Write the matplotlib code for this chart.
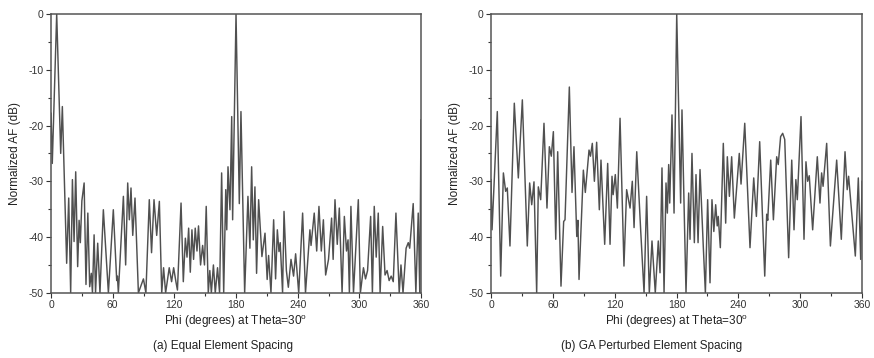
import numpy as np
import matplotlib
matplotlib.use("Agg")
import matplotlib.pyplot as plt

plt.rcParams['font.family'] = ['Liberation Sans', 'DejaVu Sans']
plt.rcParams['mathtext.default'] = 'regular'
plt.rcParams['axes.unicode_minus'] = False

# (a) equal element spacing -- lobe peaks / nulls
phi_a = [0, 1.2, 5.5, 9.4, 11, 15.2, 17.2, 19.1, 20.8, 22.4, 24, 25.9, 27.3, 28.5, 30, 32.2,
         34, 35.8, 37.6, 39.2, 40.3, 41.9, 43.3, 45.4, 47.6, 50.9, 55.8, 60.6, 63.9, 64.6,
         65.5, 70.4, 72.6, 74.6, 76.2, 77.8, 79.5, 81.7, 85, 89.9, 92.3, 95.6, 97.8, 100.2,
         102.8, 105.4, 107.7, 109.5, 111.5, 115, 117.3, 119.3, 121.5, 123, 126.5, 128.7,
         130.7, 132.3, 133.9, 135.5, 137.1, 138.7, 140.3, 142, 143.5, 145.5, 147.5, 149.3,
         151, 153, 154.5, 156, 158, 159.8, 162, 164, 166, 168, 170, 171, 172.2, 174.1, 175.8,
         176.7, 180, 183.2, 184.8, 188.4, 191.6, 193.5, 195.2, 196.8, 198.4, 200, 202, 205.2,
         208.2, 210.3, 211.7, 214, 216.6, 218.5, 220.2, 221.8, 223, 225.3, 226.7, 229, 230.9,
         233.5, 236, 238, 241, 244.8, 247.6, 251.9, 253, 256.1, 258.5, 260.7, 263, 265, 267.2,
         270, 273, 274.5, 276.3, 278.5, 280.5, 283.2, 285.4, 287.5, 289, 290.3, 291.8, 294.3,
         296, 299, 301, 304, 306, 308, 311, 312.7, 314.5, 316.4, 318.4, 320.2, 322.7, 325,
         327, 329, 331, 333, 335.6, 338.8, 340.5, 342.5, 345.5, 347.6, 349, 352.4, 355, 357.3,
         358.8, 360]
af_a = [-17.8, -26.8, 0, -25, -16.6, -44.7, -33, -50, -29.7, -40.8, -28.3, -45.3, -37, -41, -33.5, -30.3,
        -48.5, -35.7, -48.9, -46.5, -50, -39.6, -50, -41.1, -50, -35.1, -50, -35.1, -47.8, -47,
        -50, -32.7, -45, -30.3, -36.9, -31.2, -39.7, -33, -50, -47.5, -50, -33.3, -42.8, -33.3,
        -39.7, -33.6, -50, -45.5, -50, -45.5, -48, -45.5, -48, -49.5, -33.9, -48,
        -40.2, -43.6, -38.4, -46.3, -38.7, -44, -38.4, -42.5, -38, -45, -41.5, -45,
        -34.5, -50, -46, -50, -45, -50, -45.5, -50, -28.5, -50, -31.5, -38.7, -27.4, -35.1, -18.4,
        -36.9, 0, -34, -17.5, -50, -32.7, -42, -27.4, -40.5, -31, -46.5, -33.3, -43.5,
        -39.3, -47.6, -43.3, -50, -36.9, -47.5, -38.7, -42.6, -41, -50, -35.4, -46, -49,
        -44, -47, -43, -50, -35.7, -50, -38.7, -41.5, -35.7, -42.5, -34.5, -42.5, -36.9, -46.8,
        -44, -36.6, -44, -33.3, -41.3, -34.8, -50, -36.3, -42.5, -40.5, -50, -34.5, -50,
        -44, -33.3, -50, -45.5, -47.5, -46, -36.3, -50, -34.5, -43.6, -35.7, -50, -38.1, -46.8,
        -46, -47.8, -47, -48, -35.7, -50, -45, -50, -42, -41, -42, -34, -50, -35.7,
        -50, -19]

# (b) GA perturbed element spacing
phi_b = [0, 1, 6.1, 9.4, 12, 14.2, 15.8, 18.4, 22.6, 26.5, 30.4, 35.2, 37.5, 39.5, 41.7, 44.3,
         45.9, 48.2, 51.4, 54.3, 56.6, 58.5, 60.5, 62.8, 64.7, 67.9, 70.5, 71.8, 76, 78.6,
         80.5, 83.2, 84.3, 85.4, 89.6, 91.5, 95.1, 96.5, 98.3, 100.3, 102.5, 105.1, 106.7,
         110.3, 113.2, 115.5, 117.4, 118.5, 120.6, 122.6, 125.2, 129, 131.6, 134.9, 137.1,
         138.8, 141.4, 145.2, 148.5, 151, 153.6, 156.2, 159.4, 162.3, 164, 165.9, 167.9,
         169.8, 171.1, 172.4, 173.4, 175.6, 177.6, 180.2, 184, 185.3, 189.2, 191.8, 193.1,
         195, 197.3, 198.9, 200.9, 202.8, 206, 208, 210.2, 212.5, 214.4, 216.2, 218, 219.5,
         220.5, 222.5, 225.4, 227.7, 229.3, 231.3, 233.5, 236.1, 240.9, 242.6, 246.2, 251.3,
         254.9, 257.5, 260.7, 265.6, 267.5, 268.5, 271.4, 274, 277.2, 278.7, 281, 283, 285,
         288.8, 291.8, 294, 295.8, 297.2, 300.8, 303.7, 305.6, 307.2, 308.8, 312.1, 316.6,
         319.2, 320.8, 322.2, 325.7, 329.3, 335.4, 339.9, 343.5, 345.6, 347, 353.5, 356.4,
         358.7, 360]
af_b = [-29.7, -38.7, -17.5, -47, -28.5, -31.8, -31.2, -41.6, -16, -29.4, -15.4, -41.6, -30.3, -34.2, -30.1, -50,
        -31, -33.3, -19.6, -34.8, -23.8, -25.5, -21.1, -40.4, -24.7, -48.8, -37.2, -36.9, -13.1, -32,
        -23.8, -39.9, -37, -47.6, -28, -32, -24.4, -25.5, -23.2, -30, -23, -35.1, -26.2,
        -41.3, -26.8, -41.3, -29.1, -32.4, -28.8, -34.8, -18.7, -45.2, -31.5, -34.8, -30,
        -38.3, -24.7, -38.7, -50, -32.7, -50, -40.7, -50, -40.7, -46.4, -27.6, -50,
        -30.3, -35.7, -27, -33.9, -18.1, -35.7, 0, -33.9, -17.2, -50, -32.1, -40.4,
        -25, -41, -28.8, -41, -27.9, -41.8, -50, -33.3, -48.2, -33.3, -39, -34.2, -38,
        -36.3, -41.9, -23.2, -37.5, -25.6, -32.7, -25.6, -36.6, -25, -30.5, -19.6, -41.9,
        -29.4, -36.3, -22.9, -47, -35.9, -37, -26.2, -36.9, -25.6, -27, -22, -21.4, -22.5,
        -43.7, -26.2, -38.7, -29.7, -33.3, -18.4, -40.4, -26.5, -30, -29, -38.7, -25.6,
        -33.9, -28.5, -30.9, -23.2, -41.6, -26.2, -40.4, -24.7, -31.5, -29.1, -43.4, -29.4,
        -44, -30]

fig = plt.figure(figsize=(8.74, 3.58), dpi=100)
ax1 = fig.add_axes([0.0584, 0.182, 0.4233, 0.779])
ax2 = fig.add_axes([0.5618, 0.182, 0.4245, 0.779])

for ax, phi, af, cap, cx in [(ax1, phi_a, af_a, '(a) Equal Element Spacing', 0.255),
                             (ax2, phi_b, af_b, '(b) GA Perturbed Element Spacing', 0.745)]:
    ax.plot(phi, af, color='#505050', lw=1.05)
    ax.set_xlim(0, 360)
    ax.set_ylim(-50, 0)
    ax.set_xticks(np.arange(0, 361, 60))
    ax.set_xticks(np.arange(30, 361, 60), minor=True)
    ax.set_yticks(np.arange(-50, 1, 10))
    ax.set_yticks(np.arange(-45, 0, 10), minor=True)
    ax.tick_params(which='major', length=3.5, width=0.8, labelsize=7.5, colors='#333333', pad=2)
    ax.tick_params(which='minor', length=2, width=0.8, colors='#333333')
    for s in ax.spines.values():
        s.set_color('#555555')
        s.set_linewidth(1.1)
    ax.set_xlabel('Phi (degrees) at Theta=30$^{o}$', fontsize=8.5, color='#222222', labelpad=2)
    ax.set_ylabel('Normalized AF (dB)', fontsize=8.5, color='#222222', labelpad=5)
    fig.text(cx, 0.033, cap, ha='center', va='center', fontsize=8.5, color='#222222')

fig.savefig('out.png', dpi=100)
